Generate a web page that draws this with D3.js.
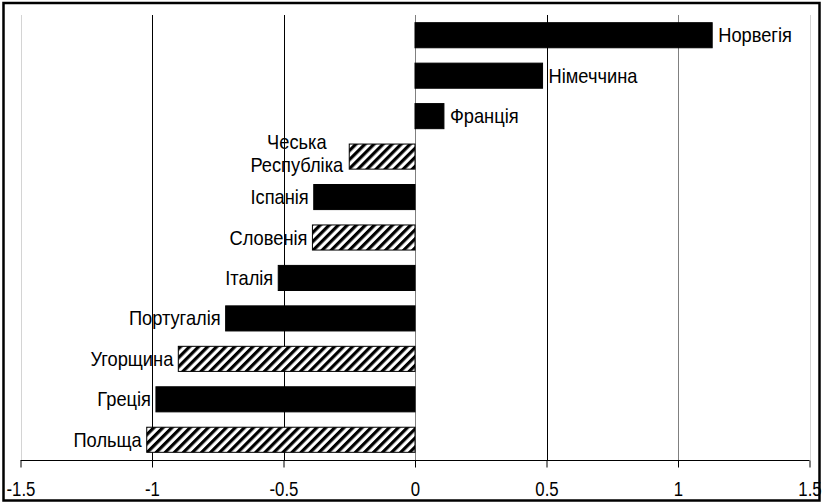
<!DOCTYPE html>
<html>
<head>
<meta charset="utf-8">
<script src="https://cdn.jsdelivr.net/npm/d3@7"></script>
<style>
  html, body { margin: 0; padding: 0; background: #fff; }
  svg { display: block; }
  text { font-family: "Liberation Sans", Arial, sans-serif; fill: #000; }
</style>
</head>
<body>
<svg id="chart" width="823" height="503"></svg>
<script>
// ---- data ----
const categories = ["Норвегія", "Німеччина", "Франція", "Чеська Республіка", "Іспанія", "Словенія", "Італія", "Португалія", "Угорщина", "Греція", "Польща"];
const values = [1.13, 0.485, 0.11, -0.25, -0.385, -0.39, -0.52, -0.72, -0.9, -0.985, -1.02];
const groups = ["old", "old", "old", "new", "old", "new", "old", "old", "new", "old", "new"];
const tickValues = [-1.5, -1, -0.5, 0, 0.5, 1, 1.5];
const tickLabels = ["-1.5", "-1", "-0.5", "0", "0.5", "1", "1.5"];

const data = categories.map((c, i) => ({ name: c, value: values[i], group: groups[i] }));

const svg = d3.select("#chart");
const SX = 0.87;       // narrow type for labels
const SXT = 0.8;       // narrow type for ticks
const FS = 21;

// hatch pattern
const defs = svg.append("defs");
const pat = defs.append("pattern")
  .attr("id", "hatch")
  .attr("patternUnits", "userSpaceOnUse")
  .attr("width", 6.4).attr("height", 6.4)
  .attr("patternTransform", "rotate(45)");
pat.append("rect").attr("width", 6.4).attr("height", 6.4).attr("fill", "#fff");
pat.append("rect").attr("width", 3.2).attr("height", 6.4).attr("fill", "#000");

const x = d3.scaleLinear().domain([-1.5, 1.5]).range([20.5, 809.5]);
const y = d3.scaleBand().domain(categories).range([15, 460]).paddingInner(0.38).paddingOuter(0.19);
const plotTop = 15, axisY = 460.5;

// gridlines
const gridColor = v => (Math.abs(v) === 1.5 ? "#d4d4d4" : ((v === 0 || v === 1) ? "#808080" : "#000"));
svg.append("g").selectAll("line").data(tickValues).join("line")
  .attr("x1", d => Math.round(x(d)) + 0.5).attr("x2", d => Math.round(x(d)) + 0.5)
  .attr("y1", plotTop).attr("y2", axisY)
  .attr("stroke", d => gridColor(d)).attr("stroke-width", 1);

// bars
svg.append("g").selectAll("rect").data(data).join("rect")
  .attr("x", d => x(Math.min(0, d.value)))
  .attr("y", d => y(d.name))
  .attr("width", d => Math.abs(x(d.value) - x(0)))
  .attr("height", y.bandwidth())
  .attr("fill", d => d.group === "new" ? "url(#hatch)" : "#000")
  .attr("stroke", "#000")
  .attr("stroke-width", 1);

// x axis
const axis = d3.axisBottom(x).tickValues(tickValues)
  .tickFormat((d, i) => tickLabels[i]).tickSize(7).tickPadding(14);
const gAxis = svg.append("g").attr("transform", `translate(0,${axisY})`).call(axis);
gAxis.select(".domain").attr("stroke", "#000").attr("d", `M${x(-1.5)},0H${x(1.5)}`);
gAxis.selectAll(".tick line").attr("stroke", "#000");
gAxis.selectAll(".tick text").attr("font-size", FS)
  .attr("font-family", '"Liberation Sans", Arial, sans-serif')
  .attr("fill", "#000").attr("dy", "0.71em")
  .attr("transform", `scale(${SXT},1)`);

// labels
const gap = 5;
const lab = svg.append("g").attr("font-size", FS);
data.forEach(d => {
  const cy = y(d.name) + y.bandwidth() / 2;
  const words = d.name.split(" ");
  if (words.length > 1 && d.value < 0) {
    const g = lab.append("g");
    const t = g.append("text").attr("text-anchor", "middle");
    const spans = words.map((w, i) => t.append("tspan").attr("x", 0).attr("y", i === 0 ? -8 : 15).text(w));
    const maxW = d3.max(spans, s => s.node().getComputedTextLength()) * SX;
    g.attr("transform", `translate(${x(d.value) - gap - 1 - maxW / 2},${cy}) scale(${SX},1)`);
  } else {
    lab.append("g")
      .attr("transform", `translate(${d.value < 0 ? x(d.value) - gap : x(d.value) + gap + 1},${cy + 7}) scale(${SX},1)`)
      .append("text")
      .attr("text-anchor", d.value < 0 ? "end" : "start")
      .text(d.name);
  }
});

// outer border
svg.append("rect").attr("x", 3.5).attr("y", 3).attr("width", 816).attr("height", 497.5)
  .attr("fill", "none").attr("stroke", "#000").attr("stroke-width", 2.5);
</script>
</body>
</html>
